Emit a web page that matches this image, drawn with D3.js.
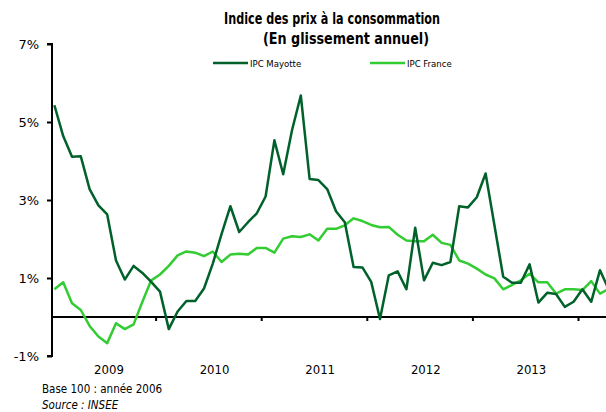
<!DOCTYPE html>
<html>
<head>
<meta charset="utf-8">
<script src="https://cdn.jsdelivr.net/npm/d3@7"></script>
<style>
  body { margin: 0; background: #fff; }
  svg { display: block; overflow: hidden; }
  text { font-family: "DejaVu Sans Condensed", "DejaVu Sans", sans-serif; fill: #000; }
</style>
</head>
<body>
<div class="chart"></div>
<script>
// Indice des prix a la consommation - glissement annuel, monthly from Jan 2009
var years = ["2009", "2010", "2011", "2012", "2013"];
var yTicks = [-1, 1, 3, 5, 7];

var ipcMayotte = [
  5.43, 4.64, 4.11, 4.12, 3.28, 2.86, 2.63, 1.45, 0.96, 1.31, 1.13, 0.90,
  0.65, -0.31, 0.14, 0.41, 0.41, 0.73, 1.37, 2.13, 2.84, 2.18, 2.43, 2.66,
  3.09, 4.53, 3.66, 4.79, 5.68, 3.54, 3.51, 3.28, 2.71, 2.43, 1.28, 1.27,
  0.90, -0.05, 1.07, 1.17, 0.71, 2.29, 0.94, 1.39, 1.33, 1.41, 2.84, 2.81,
  3.07, 3.68, 2.36, 1.03, 0.88, 0.88, 1.35, 0.37, 0.62, 0.59, 0.26, 0.39,
  0.71, 0.39, 1.20, 0.70
];
var ipcFrance = [
  0.71, 0.89, 0.35, 0.18, -0.23, -0.50, -0.67, -0.16, -0.31, -0.19, 0.39, 0.94,
  1.09, 1.31, 1.58, 1.68, 1.65, 1.56, 1.68, 1.41, 1.60, 1.62, 1.60, 1.77,
  1.77, 1.65, 2.01, 2.07, 2.05, 2.12, 1.96, 2.26, 2.26, 2.35, 2.53, 2.46,
  2.36, 2.30, 2.31, 2.11, 1.96, 1.94, 1.94, 2.11, 1.90, 1.85, 1.45, 1.37,
  1.24, 1.09, 0.99, 0.71, 0.82, 0.94, 1.11, 0.89, 0.89, 0.60, 0.71, 0.71,
  0.69, 0.92, 0.60, 0.72
];

var svgWidth = 606;
var svgHeight = 412;

// month step ~8.8px, plot goes past the right edge (clipped like the original)
var plotLeft = 50;
var monthStep = 8.8;

var svg = d3.select(".chart")
  .append("svg")
  .attr("width", svgWidth)
  .attr("height", svgHeight);

var x = d3.scaleLinear()
  .domain([0, 72])
  .range([plotLeft, plotLeft + 72 * monthStep]);

var y = d3.scaleLinear()
  .domain([-1, 7])
  .range([356, 44]);

// title (narrow bold face in the original, squeezed a bit here)
svg.append("text")
  .attr("x", 332)
  .attr("y", 24)
  .attr("text-anchor", "middle")
  .attr("textLength", 216)
  .attr("lengthAdjust", "spacingAndGlyphs")
  .style("font-size", "15px")
  .style("font-weight", "bold")
  .text("Indice des prix à la consommation");

svg.append("text")
  .attr("x", 346)
  .attr("y", 44)
  .attr("text-anchor", "middle")
  .attr("textLength", 166)
  .attr("lengthAdjust", "spacingAndGlyphs")
  .style("font-size", "15px")
  .style("font-weight", "bold")
  .text("(En glissement annuel)");

// legend
var legendItems = [
  { name: "IPC Mayotte", color: "#00612b", x: 213 },
  { name: "IPC France", color: "#33cc33", x: 370 }
];
var legend = svg.selectAll("g.legend")
  .data(legendItems)
  .enter()
  .append("g")
  .attr("class", "legend")
  .attr("transform", d => `translate(${d.x}, 63)`);

legend.append("line")
  .attr("x1", 0)
  .attr("x2", 35)
  .attr("stroke", d => d.color)
  .attr("stroke-width", 2.5);

legend.append("text")
  .attr("x", 37)
  .attr("y", 3.5)
  .style("font-size", "9.5px")
  .text(d => d.name);

// y axis
var leftAxis = d3.axisLeft(y)
  .tickValues(yTicks)
  .tickSize(5)
  .tickPadding(8)
  .tickFormat(d => d + "%");

var yAxis = svg.append("g")
  .attr("transform", `translate(${plotLeft + 2}, 0)`)
  .call(leftAxis);

yAxis.select(".domain")
  .attr("d", `M-5,${y(7)}H0V${y(-1)}H-5`)
  .attr("stroke-width", 2);
yAxis.selectAll(".tick line").attr("stroke-width", 2);
yAxis.selectAll(".tick text")
  .style("font-family", "'DejaVu Sans', sans-serif")
  .style("font-size", "13px");

// x axis on the zero line, ticks at year boundaries
var bottomAxis = d3.axisBottom(x)
  .tickValues([12, 24, 36, 48, 60])
  .tickSize(4)
  .tickFormat("");

var xAxis = svg.append("g")
  .attr("transform", `translate(0, ${y(0)})`)
  .call(bottomAxis);

xAxis.select(".domain")
  .attr("d", `M${plotLeft + 2},0H${svgWidth + 10}`)
  .attr("stroke-width", 2);
xAxis.selectAll(".tick line").attr("stroke-width", 2);

// year labels, a little right of each year's middle as in the original
svg.selectAll("text.year")
  .data(years)
  .enter()
  .append("text")
  .attr("class", "year")
  .attr("x", (d, i) => x(i * 12 + 6.7))
  .attr("y", 374)
  .attr("text-anchor", "middle")
  .style("font-size", "13px")
  .text(d => d);

// lines
var line = d3.line()
  .x((d, i) => x(i + 0.5))
  .y(d => y(d));

svg.append("path")
  .datum(ipcFrance)
  .attr("fill", "none")
  .attr("stroke", "#33cc33")
  .attr("stroke-width", 2.5)
  .attr("stroke-linejoin", "round")
  .attr("d", line);

svg.append("path")
  .datum(ipcMayotte)
  .attr("fill", "none")
  .attr("stroke", "#00612b")
  .attr("stroke-width", 2.5)
  .attr("stroke-linejoin", "round")
  .attr("d", line);

// footnotes
svg.append("text")
  .attr("x", 42)
  .attr("y", 393)
  .style("font-size", "11.5px")
  .text("Base 100 : année 2006");

svg.append("text")
  .attr("x", 42)
  .attr("y", 409)
  .style("font-size", "11.5px")
  .style("font-style", "italic")
  .text("Source : INSEE");
</script>
</body>
</html>
